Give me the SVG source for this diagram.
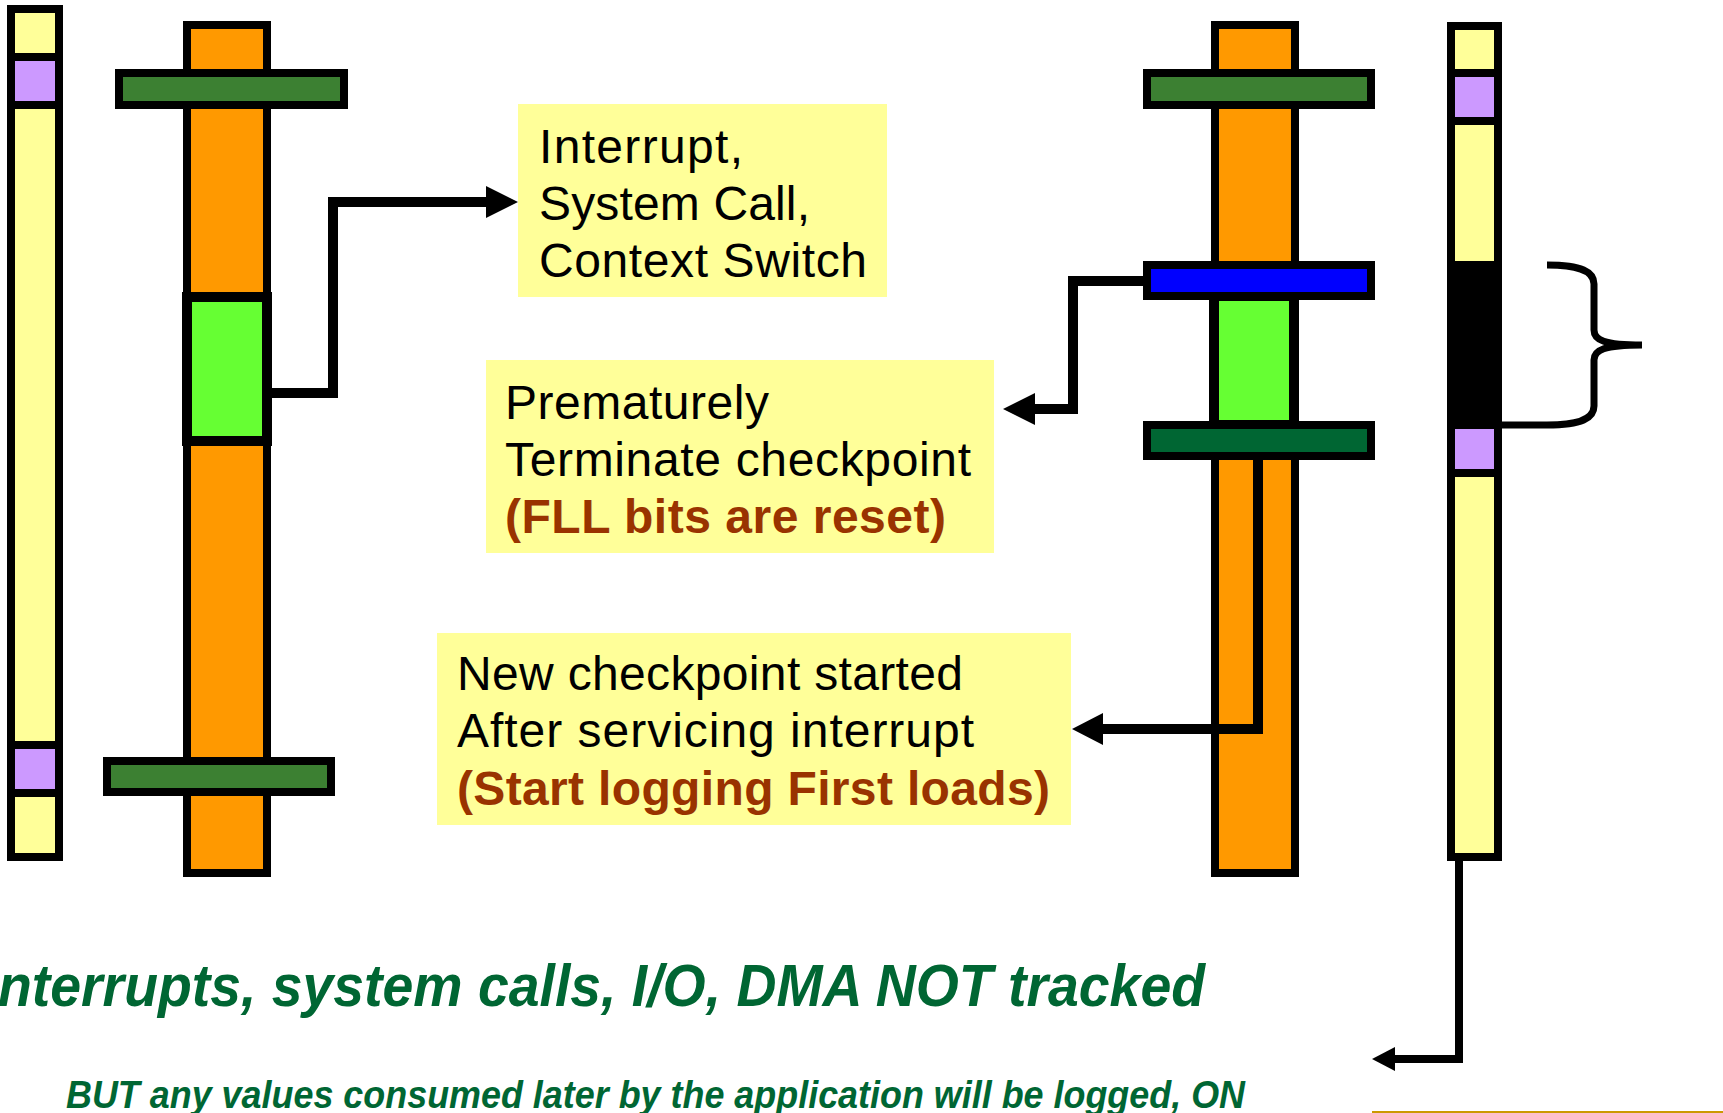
<svg xmlns="http://www.w3.org/2000/svg" width="1723" height="1113" viewBox="0 0 1723 1113">
  <defs>
    <style>
      .bar { stroke: #000; stroke-width: 8; }
      .yellow { fill: #FFFF99; }
      .purple { fill: #CC99FF; }
      .orange { fill: #FF9900; }
      .lime { fill: #66FF33; stroke: #000; stroke-width: 10; }
      .green { fill: #3C8032; }
      .dgreen { fill: #006633; }
      .blue { fill: #0000FF; }
      .note { fill: #FFFF99; }
      .txt { font-family: "Liberation Sans", Arial, sans-serif; font-size: 48px; fill: #000; }
      .hl { font-weight: bold; fill: #993300; }
      .wire { fill: none; stroke: #000; stroke-width: 10; stroke-linejoin: miter; }
      .head { fill: #000; }
      .caption { font-family: "Liberation Sans", Arial, sans-serif; font-weight: bold; font-style: italic; fill: #006633; }
    </style>
  </defs>

  <!-- left memory strip -->
  <g id="strip-left">
    <rect class="bar yellow" x="11" y="9" width="48" height="848"/>
    <rect class="bar purple" x="11" y="57" width="48" height="48"/>
    <rect class="bar purple" x="11" y="745" width="48" height="48"/>
  </g>

  <!-- left execution column -->
  <g id="column-left">
    <rect class="bar orange" x="187" y="25" width="80" height="848"/>
    <rect class="bar green" x="119" y="73" width="225" height="32"/>
    <rect class="lime" x="187" y="297" width="80" height="144"/>
    <rect class="bar green" x="107" y="761" width="224" height="31"/>
  </g>

  <!-- right execution column -->
  <g id="column-right">
    <rect class="bar orange" x="1215" y="25" width="80" height="848"/>
    <rect class="bar green" x="1147" y="73" width="224" height="32"/>
    <rect class="lime" x="1214" y="296" width="80" height="129"/>
    <rect class="bar blue" x="1147" y="265" width="224" height="31"/>
    <rect class="bar dgreen" x="1147" y="425" width="224" height="31"/>
  </g>

  <!-- right memory strip -->
  <g id="strip-right">
    <rect class="bar yellow" x="1451" y="26" width="47" height="831"/>
    <rect class="bar purple" x="1451" y="73" width="47" height="48"/>
    <rect x="1447" y="261" width="55" height="164" fill="#000"/>
    <rect class="bar purple" x="1451" y="425" width="47" height="48"/>
  </g>

  <!-- brace beside the blacked-out region -->
  <g id="brace">
    <path d="M1547,265 C1582,265 1594,272 1594,284 L1594,330 C1594,340 1604,345 1642,345 M1642,345 C1604,345 1594,350 1594,360 L1594,406 C1594,418 1582,425 1547,425 L1502,425" fill="none" stroke="#000" stroke-width="7"/>
  </g>

  <!-- callout notes -->
  <g id="note-interrupt">
    <rect class="note" x="518" y="104" width="369" height="193"/>
    <text class="txt" x="539" y="163" textLength="204">Interrupt,</text>
    <text class="txt" x="539" y="220" textLength="271">System Call,</text>
    <text class="txt" x="539" y="277" textLength="328">Context Switch</text>
  </g>

  <g id="note-terminate">
    <rect class="note" x="486" y="360" width="508" height="193"/>
    <text class="txt" x="505" y="419" textLength="264">Prematurely</text>
    <text class="txt" x="505" y="476" textLength="466">Terminate checkpoint</text>
    <text class="txt hl" x="505" y="533" textLength="441">(FLL bits are reset)</text>
  </g>

  <g id="note-new">
    <rect class="note" x="437" y="633" width="634" height="192"/>
    <text class="txt" x="457" y="690" textLength="506">New checkpoint started</text>
    <text class="txt" x="457" y="747" textLength="517">After servicing interrupt</text>
    <text class="txt hl" x="457" y="805" textLength="593">(Start logging First loads)</text>
  </g>

  <!-- connectors -->
  <g id="connectors">
    <path class="wire" d="M267,393 H333 V202 H490"/>
    <polygon class="head" points="518,202 486,186 486,218"/>

    <path class="wire" d="M1147,281 H1073 V409 H1032"/>
    <polygon class="head" points="1003,409 1035,393 1035,425"/>

    <path class="wire" d="M1258,456 V729 H1100"/>
    <polygon class="head" points="1072,729 1103,713 1103,745"/>

    <path class="wire" style="stroke-width:8" d="M1459,857 V1059 H1392"/>
    <polygon class="head" points="1372,1059 1395,1047 1395,1071"/>
  </g>

  <!-- footer captions -->
  <g id="captions">
    <text class="caption" x="-2" y="1006" font-size="60" textLength="1207" lengthAdjust="spacingAndGlyphs">nterrupts, system calls, I/O, DMA NOT tracked</text>
    <text class="caption" x="66" y="1108" font-size="38" textLength="1179" lengthAdjust="spacingAndGlyphs">BUT any values consumed later by the application will be logged, ON</text>
    <line x1="1372" y1="1112" x2="1723" y2="1112" stroke="#CC9900" stroke-width="2"/>
  </g>
</svg>
